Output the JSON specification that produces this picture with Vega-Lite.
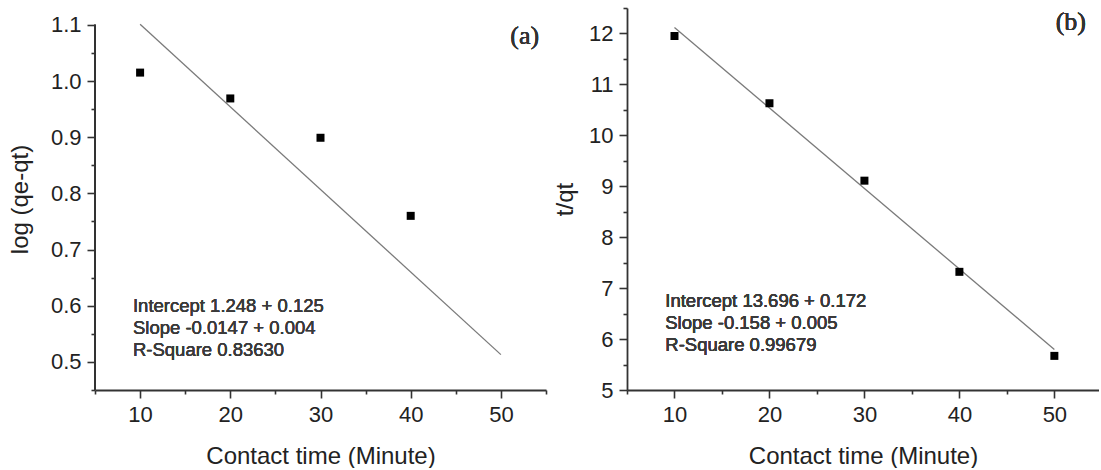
{
  "$schema": "https://vega.github.io/schema/vega-lite/v6.json",
  "padding": {"left": 8, "top": 7, "right": 0, "bottom": 0},
  "spacing": 6,
  "config": {
    "font": "Liberation Sans",
    "view": {"stroke": null},
    "axis": {
      "grid": false,
      "labelOverlap": false,
      "tickCount": 60,
      "domainColor": "#333333",
      "domainWidth": 1.8,
      "tickColor": "#333333",
      "tickWidth": 1.6,
      "labelColor": "#222222",
      "labelFontSize": 22,
      "labelPadding": 6,
      "labelFont": "Liberation Sans",
      "titleColor": "#222222",
      "titleFontSize": 24,
      "titleFontWeight": "normal",
      "titleFont": "Liberation Sans"
    }
  },
  "hconcat": [
    {
      "width": 451,
      "height": 382,
      "data": {"values": [
        {"t": 10, "v": 1.015},
        {"t": 20, "v": 0.969},
        {"t": 30, "v": 0.899},
        {"t": 40, "v": 0.760}
      ]},
      "layer": [
        {
          "data": {"values": [{"t": 10, "fit": 1.101}, {"t": 50, "fit": 0.513}]},
          "mark": {"type": "line", "color": "#7a7a7a", "strokeWidth": 1.3},
          "encoding": {
            "x": {"field": "t", "type": "quantitative", "title": "Contact time (Minute)"},
            "y": {"field": "fit", "type": "quantitative", "title": "log (qe-qt)"}
          }
        },
        {
          "mark": {"type": "point", "shape": "square", "filled": true, "color": "#000000", "opacity": 1, "size": 64},
          "encoding": {
            "x": {
              "field": "t", "type": "quantitative", "title": "Contact time (Minute)",
              "scale": {"domain": [5, 55], "nice": false, "zero": false},
              "axis": {
                "values": [5, 10, 15, 20, 25, 30, 35, 40, 45, 50, 55],
                "tickCount": 60,
                "labelExpr": "datum.value % 10 == 0 ? format(datum.value, 'd') : ''",
                "labelFontSize": {"condition": {"test": "datum.value % 10 == 0", "value": 22}, "value": 1},
                "tickSize": {"condition": {"test": "datum.value % 10 == 0", "value": 8}, "value": 4},
                "labelOverlap": false,
                "titlePadding": 19
              }
            },
            "y": {
              "field": "v", "type": "quantitative", "title": "log (qe-qt)",
              "scale": {"domain": [0.45, 1.13], "nice": false, "zero": false},
              "axis": {
                "values": [0.45, 0.5, 0.55, 0.6, 0.65, 0.7, 0.75, 0.8, 0.85, 0.9, 0.95, 1, 1.05, 1.1],
                "tickCount": 60,
                "labelExpr": "(datum.value == 0.5 || datum.value == 0.6 || datum.value == 0.7 || datum.value == 0.8 || datum.value == 0.9 || datum.value == 1 || datum.value == 1.1) ? format(datum.value, '.1f') : ''",
                "labelFontSize": {"condition": {"test": "datum.value == 0.5 || datum.value == 0.6 || datum.value == 0.7 || datum.value == 0.8 || datum.value == 0.9 || datum.value == 1 || datum.value == 1.1", "value": 22}, "value": 1},
                "tickSize": {"condition": {"test": "datum.value == 0.5 || datum.value == 0.6 || datum.value == 0.7 || datum.value == 0.8 || datum.value == 0.9 || datum.value == 1 || datum.value == 1.1", "value": 8}, "value": 4},
                "labelOverlap": false,
                "domain": false,
                "titlePadding": 18
              }
            }
          }
        },
        {
          "mark": {"type": "rule", "color": "#333333", "strokeWidth": 1.8},
          "encoding": {
            "x": {"datum": 5, "type": "quantitative", "title": "Contact time (Minute)"},
            "y": {"datum": 0.45, "type": "quantitative", "title": "log (qe-qt)"},
            "y2": {"datum": 1.1}
          }
        },
        {
          "mark": {"type": "text", "align": "left", "baseline": "alphabetic", "fontSize": 18.5, "lineHeight": 22, "color": "#3a3a3a"},
          "encoding": {
            "x": {"datum": 9.21, "type": "quantitative", "title": "Contact time (Minute)"},
            "y": {"datum": 0.5885, "type": "quantitative", "title": "log (qe-qt)"},
            "text": {"value": ["Intercept 1.248 + 0.125", "Slope -0.0147 + 0.004", "R-Square 0.83630"]}
          }
        },
        {
          "mark": {"type": "text", "align": "center", "baseline": "alphabetic", "fontSize": 26, "fontWeight": "normal", "font": "Liberation Serif", "color": "#333333"},
          "encoding": {
            "x": {"datum": 52.64, "type": "quantitative", "title": "Contact time (Minute)"},
            "y": {"datum": 1.0656, "type": "quantitative", "title": "log (qe-qt)"},
            "text": {"value": "(a)"}
          }
        }
      ]
    },
    {
      "width": 472,
      "height": 382,
      "data": {"values": [
        {"t": 10, "v": 11.95},
        {"t": 20, "v": 10.63},
        {"t": 30, "v": 9.11},
        {"t": 40, "v": 7.32},
        {"t": 50, "v": 5.67}
      ]},
      "layer": [
        {
          "data": {"values": [{"t": 10, "fit": 12.116}, {"t": 50, "fit": 5.796}]},
          "mark": {"type": "line", "color": "#7a7a7a", "strokeWidth": 1.3},
          "encoding": {
            "x": {"field": "t", "type": "quantitative", "title": "Contact time (Minute)"},
            "y": {"field": "fit", "type": "quantitative", "title": "t/qt"}
          }
        },
        {
          "mark": {"type": "point", "shape": "square", "filled": true, "color": "#000000", "opacity": 1, "size": 64},
          "encoding": {
            "x": {
              "field": "t", "type": "quantitative", "title": "Contact time (Minute)",
              "scale": {"domain": [5, 54.7], "nice": false, "zero": false},
              "axis": {
                "values": [5, 10, 15, 20, 25, 30, 35, 40, 45, 50],
                "tickCount": 60,
                "labelExpr": "datum.value % 10 == 0 ? format(datum.value, 'd') : ''",
                "labelFontSize": {"condition": {"test": "datum.value % 10 == 0", "value": 22}, "value": 1},
                "tickSize": {"condition": {"test": "datum.value % 10 == 0", "value": 8}, "value": 4},
                "labelOverlap": false,
                "titlePadding": 19
              }
            },
            "y": {
              "field": "v", "type": "quantitative", "title": "t/qt",
              "scale": {"domain": [5, 12.5], "nice": false, "zero": false},
              "axis": {
                "values": [5, 5.5, 6, 6.5, 7, 7.5, 8, 8.5, 9, 9.5, 10, 10.5, 11, 11.5, 12, 12.5],
                "tickCount": 60,
                "labelExpr": "datum.value % 1 == 0 ? format(datum.value, 'd') : ''",
                "labelFontSize": {"condition": {"test": "datum.value % 1 == 0", "value": 22}, "value": 1},
                "tickSize": {"condition": {"test": "datum.value % 1 == 0", "value": 8}, "value": 4},
                "labelOverlap": false,
                "titlePadding": 11
              }
            }
          }
        },
        {
          "mark": {"type": "text", "align": "left", "baseline": "alphabetic", "fontSize": 18.5, "lineHeight": 22, "color": "#3a3a3a"},
          "encoding": {
            "x": {"datum": 9.03, "type": "quantitative", "title": "Contact time (Minute)"},
            "y": {"datum": 6.628, "type": "quantitative", "title": "t/qt"},
            "text": {"value": ["Intercept 13.696 + 0.172", "Slope -0.158 + 0.005", "R-Square 0.99679"]}
          }
        },
        {
          "mark": {"type": "text", "align": "center", "baseline": "alphabetic", "fontSize": 26, "fontWeight": "normal", "font": "Liberation Serif", "color": "#333333"},
          "encoding": {
            "x": {"datum": 51.73, "type": "quantitative", "title": "Contact time (Minute)"},
            "y": {"datum": 12.065, "type": "quantitative", "title": "t/qt"},
            "text": {"value": "(b)"}
          }
        }
      ]
    }
  ]
}
